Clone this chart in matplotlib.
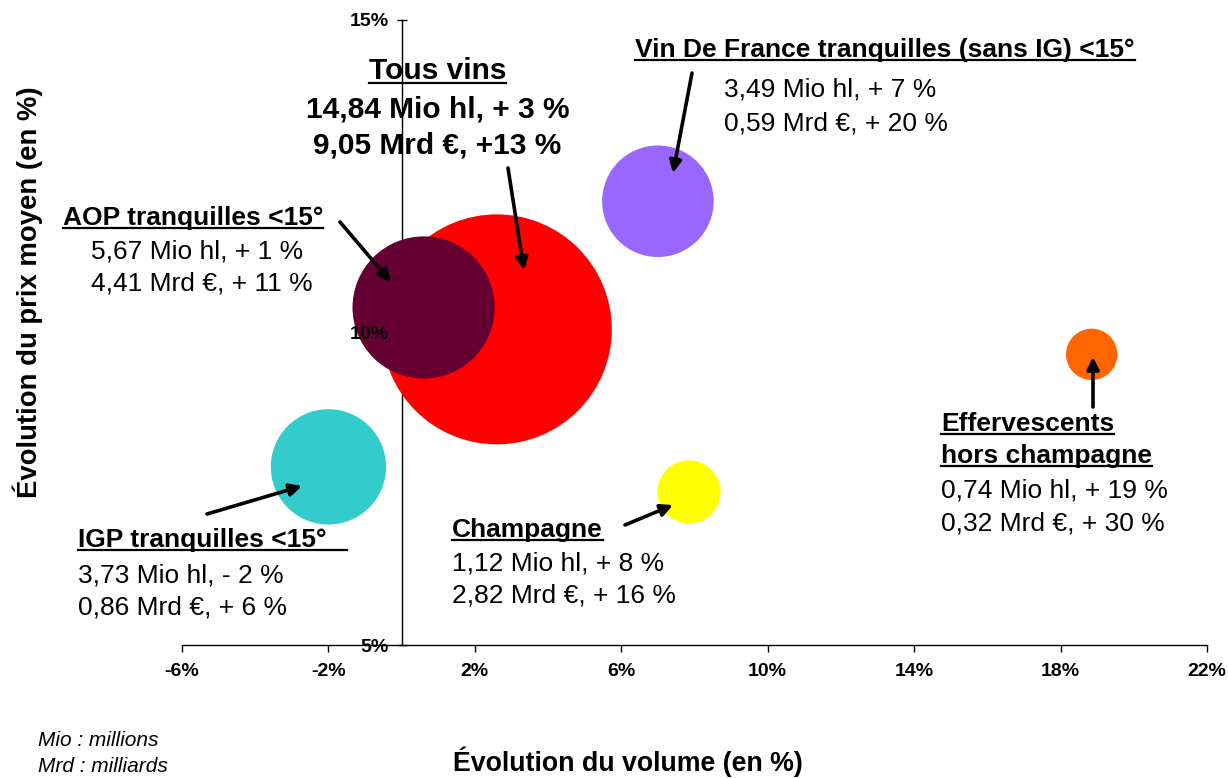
import matplotlib
matplotlib.use("Agg")
import matplotlib.pyplot as plt
from matplotlib.lines import Line2D

plt.rcParams['font.family'] = ['Liberation Sans', 'DejaVu Sans']

# ---------------- data ----------------
segments = ["Tous vins", "AOP tranquilles <15°", "IGP tranquilles <15°",
            "Vin De France tranquilles (sans IG) <15°", "Champagne",
            "Effervescents hors champagne"]
volume_change = [2.6, 0.6, -2.0, 7.0, 7.85, 18.85]      # x, %
price_change = [10.05, 10.4, 7.85, 12.1, 7.45, 9.65]    # y, %
volume_mio_hl = [14.84, 5.67, 3.73, 3.49, 1.12, 0.74]   # bubble size
colors = ["#FF0000", "#660033", "#33CCCC", "#9966FF", "#FFFF00", "#FF6600"]

x_ticks = [-6, -2, 2, 6, 10, 14, 18, 22]
y_ticks = [5, 10, 15]

W, H = 1228, 778
fig = plt.figure(figsize=(W / 100, H / 100), dpi=100)
ax = fig.add_axes([182 / W, 1 - 645 / H, (1207 - 182) / W, (645 - 20) / H])
ax.set_xlim(-6, 22)
ax.set_ylim(5, 15)

size_k = 1848
ax.scatter(volume_change, price_change, s=[v * size_k for v in volume_mio_hl],
           c=colors, edgecolors='none', zorder=2, clip_on=False)

# axes styling
for sp in ['top', 'right']:
    ax.spines[sp].set_visible(False)
ax.spines['left'].set_position(('data', 0))
ax.spines['left'].set_zorder(0.5)
ax.spines['left'].set_linewidth(1.0)
ax.spines['bottom'].set_linewidth(1.0)
ax.set_xticks(x_ticks)
ax.set_xticklabels([f"{v}%" for v in x_ticks], fontsize=14, fontweight='bold')
ax.set_yticks(y_ticks)
ax.set_yticklabels([f"{v}%" for v in y_ticks], fontsize=14, fontweight='bold')
ax.tick_params(axis='x', direction='out', length=5, width=1, pad=8)
ax.tick_params(axis='y', direction='inout', length=7, width=1, pad=6)
ax.yaxis.set_zorder(5)
for i, t in enumerate(ax.yaxis.get_major_ticks()):
    if y_ticks[i] == 10:
        t.tick1line.set_visible(False)

# axis titles
fig.text(628 / W, 1 - 762 / H, "Évolution du volume (en %)", ha='center', va='center',
         fontsize=19.3, fontweight='bold')
fig.text(28 / W, 1 - 292 / H, "Évolution du prix moyen (en %)", ha='center', va='center',
         rotation=90, fontsize=19.8, fontweight='bold')
fig.text(38 / W, 1 - 746 / H, "Mio : millions", ha='left', va='baseline',
         fontsize=15, style='italic')
fig.text(38 / W, 1 - 772 / H, "Mrd : milliards", ha='left', va='baseline',
         fontsize=15, style='italic')

renderer = fig.canvas.get_renderer()


def label(x, yb, s, size=19, bold=False, ha='left', underline=False, ul_extra=0):
    t = fig.text(x / W, 1 - yb / H, s, ha=ha, va='baseline', fontsize=size,
                 fontweight='bold' if bold else 'normal', zorder=6)
    if underline:
        bb = t.get_window_extent(renderer=renderer)
        yy = H - yb - size * 0.12 * 100 / 72
        fig.add_artist(Line2D([bb.x0, bb.x1 + ul_extra], [yy, yy],
                              transform=None, color='black', lw=1.6))
    return t


# Tous vins
label(437.5, 79, "Tous vins", size=21.5, bold=True, ha='center', underline=True)
label(437.5, 117, "14,84 Mio hl, + 3 %", size=21.5, bold=True, ha='center')
label(437.5, 154, "9,05 Mrd €, +13 %", size=21.5, bold=True, ha='center')

# VDF
label(635, 57, "Vin De France tranquilles (sans IG) <15°", bold=True, underline=True)
label(724, 97, "3,49 Mio hl, + 7 %")
label(724, 130, "0,59 Mrd €, + 20 %")

# AOP
label(63, 225, "AOP tranquilles <15°", bold=True, underline=True)
label(91, 258, "5,67 Mio hl, + 1 %")
label(91, 291, "4,41 Mrd €, + 11 %")

# IGP
label(78, 547, "IGP tranquilles <15°", bold=True, underline=True, ul_extra=20)
label(78, 583, "3,73 Mio hl, - 2 %")
label(78, 615, "0,86 Mrd €, + 6 %")

# Champagne
label(452, 537, "Champagne", bold=True, underline=True)
label(452, 571, "1,12 Mio hl, + 8 %")
label(452, 603, "2,82 Mrd €, + 16 %")

# Effervescents
label(941, 431, "Effervescents", bold=True, underline=True)
label(941, 463, "hors champagne", bold=True, underline=True)
label(941, 497, "0,74 Mio hl, + 19 %")
label(941, 530, "0,32 Mrd €, + 30 %")

# arrows (tail -> tip) in image pixels
arrows = [((508, 168), (524, 270)),
          ((692, 73), (673, 173)),
          ((340, 222), (391, 282)),
          ((207, 514), (302, 486)),
          ((625, 525), (673, 505)),
          ((1093, 407), (1093, 357))]
for (tx, ty), (hx, hy) in arrows:
    ax.annotate('', xy=(hx, H - hy), xycoords='figure pixels',
                xytext=(tx, H - ty), textcoords='figure pixels',
                arrowprops=dict(arrowstyle='-|>', lw=2.6, color='black',
                                mutation_scale=18, shrinkA=0, shrinkB=0),
                zorder=6, annotation_clip=False)

fig.savefig("out.png", dpi=100)
